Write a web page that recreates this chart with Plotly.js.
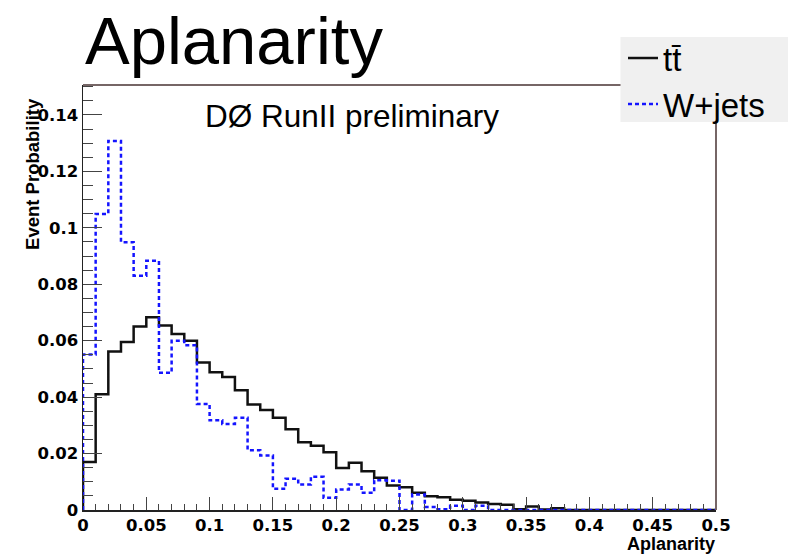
<!DOCTYPE html>
<html>
<head>
<meta charset="utf-8">
<script src="https://cdn.plot.ly/plotly-3.0.1.min.js"></script>
<style>html,body{margin:0;padding:0;background:#fff;}#chart{width:788px;height:555px;}</style>
</head>
<body>
<div id="chart"></div>
<script>
// Bin low edges (bin width 0.01), Aplanarity
const binLow = [0.00,0.01,0.02,0.03,0.04,0.05,0.06,0.07,0.08,0.09,
                0.10,0.11,0.12,0.13,0.14,0.15,0.16,0.17,0.18,0.19,
                0.20,0.21,0.22,0.23,0.24,0.25,0.26,0.27,0.28,0.29,
                0.30,0.31,0.32,0.33,0.34,0.35,0.36,0.37,0.38,0.39,
                0.40,0.41,0.42,0.43,0.44,0.45,0.46,0.47,0.48,0.49];
const binHighLast = 0.50;

// ttbar event probability per bin
const ttbar = [0.0170,0.0410,0.0562,0.0595,0.0650,0.0683,0.0654,0.0624,0.0600,0.0523,
               0.0488,0.0471,0.0424,0.0374,0.0354,0.0327,0.0286,0.0240,0.0228,0.0205,
               0.0149,0.0167,0.0137,0.0114,0.0087,0.0081,0.0061,0.0049,0.0045,0.0036,
               0.0033,0.0027,0.0021,0.0019,0.0003,0.0012,0.0002,0.0006,0,0,
               0,0,0,0,0,0,0,0,0,0];

// W+jets event probability per bin
const wjets = [0.0551,0.1049,0.1308,0.0949,0.0830,0.0883,0.0486,0.0600,0.0584,0.0376,
               0.0318,0.0305,0.0327,0.0212,0.0193,0.0075,0.0111,0.0090,0.0118,0.0043,
               0.0073,0.0090,0.0061,0.0105,0.0104,0,0.0055,0.0011,0.0003,0.0015,
               0,0.0015,0,0,0,0,0,0,0,0,
               0,0,0,0,0,0,0,0,0,0];

const xTickVals = [0,0.05,0.1,0.15,0.2,0.25,0.3,0.35,0.4,0.45,0.5];
const yTickVals = [0,0.02,0.04,0.06,0.08,0.1,0.12,0.14];

function stepXY(vals){
  const xs = [binLow[0]].concat(binLow, [binHighLast]);
  const ys = [0].concat(vals, [vals[vals.length-1]]);
  return {x: xs, y: ys};
}

const ML = 83, MR = 72, MT = 85, MB = 44.5;
const W = 788, H = 555;
const PW = W - ML - MR, PH = H - MT - MB;
const px = v => (v - ML) / PW;
const py = v => (H - MB - v) / PH;

const t1 = stepXY(ttbar), t2 = stepXY(wjets);

const data = [
  {x: t1.x, y: t1.y, type: 'scatter', mode: 'lines', name: 'tt\u0304',
   line: {shape: 'hv', color: '#111111', width: 2.5}, cliponaxis: false},
  {x: t2.x, y: t2.y, type: 'scatter', mode: 'lines', name: 'W+jets',
   line: {shape: 'hv', color: '#1414ff', width: 2.5, dash: '4px,3px'}, cliponaxis: false}
];

const tickFont = {family: 'DejaVu Sans', size: 16.5, weight: 'bold', color: '#000'};

const layout = {
  width: W, height: H,
  margin: {l: ML, r: MR, t: MT, b: MB, pad: 0},
  paper_bgcolor: '#ffffff', plot_bgcolor: '#ffffff',
  showlegend: true,
  legend: {x: px(623), y: py(30), xanchor: 'left', yanchor: 'top',
           bgcolor: 'rgba(0,0,0,0)', borderwidth: 0,
           font: {family: 'Liberation Sans', size: 33, color: '#000'},
           tracegroupgap: 0},
  xaxis: {range: [0, 0.5], tickvals: xTickVals, ticks: 'inside', ticklen: 13, tickwidth: 1,
          tickcolor: '#444', showline: true, linecolor: '#222', linewidth: 1.5,
          showgrid: false, zeroline: false, tickfont: tickFont,
          minor: {dtick: 0.01, tick0: 0, ticks: 'inside', ticklen: 6.5, tickwidth: 1, tickcolor: '#444', showgrid: false}},
  yaxis: {range: [0, 0.1506], tickvals: yTickVals, ticks: 'inside', ticklen: 19, tickwidth: 1,
          tickcolor: '#444', showline: true, linecolor: '#222', linewidth: 1.5,
          showgrid: false, zeroline: false, tickfont: tickFont,
          minor: {dtick: 0.005, tick0: 0, ticks: 'inside', ticklen: 9.5, tickwidth: 1, tickcolor: '#444', showgrid: false}},
  shapes: [
    {type: 'line', xref: 'paper', yref: 'paper', x0: 0, x1: 1, y0: 1, y1: 1,
     line: {color: '#766666', width: 2}},
    {type: 'line', xref: 'paper', yref: 'paper', x0: 1, x1: 1, y0: 0, y1: 1,
     line: {color: '#766666', width: 2}},
    {type: 'rect', xref: 'paper', yref: 'paper', x0: px(620.5), x1: px(800), y0: py(122), y1: py(37),
     fillcolor: '#f0f0f0', line: {width: 0}, layer: 'above'}
  ],
  annotations: [
    {text: 'Aplanarity', xref: 'paper', yref: 'paper', x: px(83), y: py(40), xanchor: 'left', yanchor: 'middle',
     showarrow: false, font: {family: 'Liberation Sans', size: 67, color: '#000'}},
    {text: 'DØ RunII preliminary', xref: 'paper', yref: 'paper', x: px(203), y: py(116), xanchor: 'left', yanchor: 'middle',
     showarrow: false, font: {family: 'Liberation Sans', size: 31.5, color: '#000'}},
    {text: 'Event Probability', xref: 'paper', yref: 'paper', x: px(33), y: py(174), xanchor: 'center', yanchor: 'middle',
     textangle: -90, showarrow: false, font: {family: 'Liberation Sans', size: 18.5, weight: 'bold', color: '#000'}},
    {text: 'Aplanarity', xref: 'paper', yref: 'paper', x: px(716), y: py(544.3), xanchor: 'right', yanchor: 'middle',
     showarrow: false, borderpad: 0, font: {family: 'Liberation Sans', size: 18, weight: 'bold', color: '#000'}}
  ]
};

Plotly.newPlot('chart', data, layout, {staticPlot: true, displayModeBar: false});
</script>
</body>
</html>
